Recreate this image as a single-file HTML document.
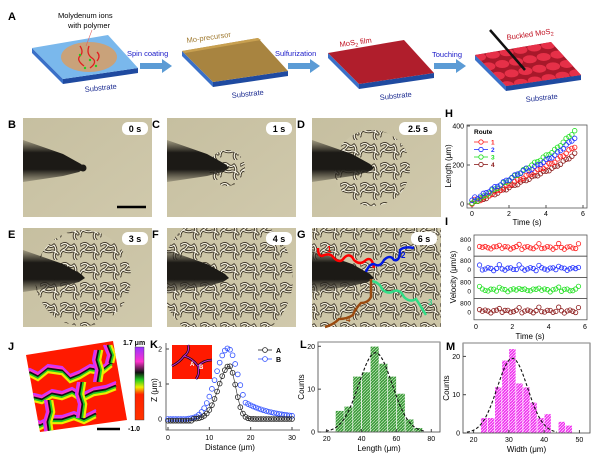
<!DOCTYPE html>
<html><head><meta charset="utf-8"><style>
html,body{margin:0;padding:0;background:#fff;}
svg{display:block;font-family:"Liberation Sans",Arial,sans-serif;}
</style></head><body>
<svg id="s" width="600" height="457" viewBox="0 0 600 457" xmlns="http://www.w3.org/2000/svg">
<defs>
<pattern id="buck" width="20" height="20" patternUnits="userSpaceOnUse">
 <rect width="20" height="20" fill="#cdc6a8"/>
 <g fill="none" stroke-linecap="round">
 <path d="M1,5 q4,-3 7,0 q3,3 6,0 M14,5 q3,4 1,8 q-2,4 1,7 M8,5 q-2,4 -5,5 q-3,2 -3,6 M3,10 q5,3 9,1 M12,11 q4,0 6,3" stroke="#3a3224" stroke-width="3"/>
 <path d="M1,5 q4,-3 7,0 q3,3 6,0 M14,5 q3,4 1,8 q-2,4 1,7 M8,5 q-2,4 -5,5 q-3,2 -3,6 M3,10 q5,3 9,1 M12,11 q4,0 6,3" stroke="#f6f2e2" stroke-width="1.2"/>
 </g>
</pattern>
<linearGradient id="bg" x1="0" y1="0" x2="1" y2="1"><stop offset="0" stop-color="#c6bfa0"/><stop offset="1" stop-color="#d0c9ac"/></linearGradient>
<linearGradient id="ndl" x1="0" y1="0" x2="0" y2="1"><stop offset="0" stop-color="#3a362c" stop-opacity="0.3"/><stop offset="0.3" stop-color="#1c1a16"/><stop offset="0.7" stop-color="#1c1a16"/><stop offset="1" stop-color="#3a362c" stop-opacity="0.3"/></linearGradient>
<linearGradient id="cb" x1="0" y1="0" x2="0" y2="1">
 <stop offset="0" stop-color="#9933ff"/><stop offset="0.2" stop-color="#ff33cc"/><stop offset="0.35" stop-color="#111"/><stop offset="0.45" stop-color="#22cc22"/><stop offset="0.55" stop-color="#eeee00"/><stop offset="0.65" stop-color="#ff2200"/><stop offset="1" stop-color="#ff3300"/></linearGradient>
<pattern id="hg" width="3" height="3" patternUnits="userSpaceOnUse"><rect width="3" height="3" fill="#3a9a3a"/><path d="M0,3 L3,0" stroke="#b8e0b0" stroke-width="0.8"/></pattern>
<pattern id="hm" width="3" height="3" patternUnits="userSpaceOnUse"><rect width="3" height="3" fill="#ee33ee"/><path d="M0,3 L3,0" stroke="#ffd0ff" stroke-width="0.8"/></pattern>
</defs>
<g id="root"></g>
</svg>
<script>
const NS="http://www.w3.org/2000/svg";const root=document.getElementById('root');
function el(t,a,txt,p){const e=document.createElementNS(NS,t);for(const k in a)e.setAttribute(k,a[k]);if(txt!=null)e.textContent=txt;(p||root).appendChild(e);return e;}
function T(x,y,s,sz,o){o=o||{};return el('text',Object.assign({x:x,y:y,'font-size':sz||8,fill:'#000'},o),s);}
[['A',8,20],['B',8,128],['C',152,128],['D',297,128],['E',8,238],['F',152,238],['G',297,238],['H',445,117],['I',445,225],['J',8,350],['K',150,348],['L',300,348],['M',446,350]].forEach(a=>T(a[1],a[2],a[0],11,{'font-weight':'bold'}));
// Schematic slabs
function slab(x,y,top,id,extra){
 const L=[x,y+13],B=[x+76,y],R=[x+106,y+33],F=[x+31,y+44];
 el('polygon',{points:`${L} ${F} ${F[0]},${F[1]+5} ${L[0]},${L[1]+5}`,fill:'#3a70c8'});
 el('polygon',{points:`${F} ${R} ${R[0]},${R[1]+5} ${F[0]},${F[1]+5}`,fill:'#1f4aa0'});
 el('polygon',{points:`${L} ${B} ${R} ${F}`,fill:top});
 if(extra){const cp=el('clipPath',{id:id});el('polygon',{points:`${L} ${B} ${R} ${F}`},null,cp);extra(el('g',{'clip-path':`url(#${id})`}),L,B,R,F);}
}
slab(32,35,'#7ab8ec','s1',g=>{el('ellipse',{cx:89,cy:57,rx:28,ry:15,fill:'#c9a27a'},null,g);
 el('path',{d:'M80,46 q4,6 0,10 t4,10 M89,46 q-3,8 3,12 t-2,10 M97,52 q4,4 0,9',stroke:'#e02020','stroke-width':1.3,fill:'none'},null,g);
 [[80,55],[90,60],[96,66],[85,68]].forEach(p=>el('circle',{cx:p[0],cy:p[1],r:1.2,fill:'#22cc22'},null,g));});
el('line',{x1:92,y1:30,x2:86,y2:46,stroke:'#e06060','stroke-width':0.6});
slab(182,38,'#a88440');
el('polygon',{points:'182,51 258,38 261,40 185,53',fill:'#c8a050'});
slab(328,40,'#b01e2c');
slab(475,42,'#a8182a','s4',(g,L,B,R,F)=>{
 for(let i=0;i<24;i++){const u=(i%6)/5.5,v=Math.floor(i/6)/3.3;
  const px=L[0]+u*(B[0]-L[0])+v*(F[0]-L[0]),py=L[1]+u*(B[1]-L[1])+v*(F[1]-L[1]);
  el('ellipse',{cx:px+4,cy:py+2,rx:7,ry:4,fill:'#e63048'},null,g);}});
el('line',{x1:490,y1:30,x2:525,y2:70,stroke:'#111','stroke-width':2.5});
[[140,66],[288,66],[434,66]].forEach(a=>{el('polygon',{points:`${a[0]},${a[1]-3} ${a[0]+22},${a[1]-3} ${a[0]+22},${a[1]-7} ${a[0]+32},${a[1]} ${a[0]+22},${a[1]+7} ${a[0]+22},${a[1]+3} ${a[0]},${a[1]+3}`,fill:'#5b9bd5'});});
T(127,56,'Spin coating',7.5,{fill:'#1a1ac8'});T(275,56,'Sulfurization',7.5,{fill:'#1a1ac8'});T(432,57,'Touching',7.5,{fill:'#1a1ac8'});
T(58,18,'Molydenum ions',7.5);T(68,28,'with polymer',7.5);
T(187,43,'Mo-precursor',7.5,{fill:'#a07a30',transform:'rotate(-8 187 43)'});
el('text',{x:340,y:47,'font-size':7.5,fill:'#c01020',transform:'rotate(-8 340 47)'}).innerHTML='MoS<tspan font-size="5.5" dy="2">2</tspan><tspan dy="-2"> film</tspan>';
el('text',{x:507,y:40,'font-size':7.5,fill:'#c01020',transform:'rotate(-8 507 40)'}).innerHTML='Buckled MoS<tspan font-size="5.5" dy="2">2</tspan>';
T(85,92,'Substrate',7.5,{fill:'#1a2a90',transform:'rotate(-6 85 92)'});T(232,98,'Substrate',7.5,{fill:'#1a2a90',transform:'rotate(-6 232 98)'});
T(380,100,'Substrate',7.5,{fill:'#1a2a90',transform:'rotate(-6 380 100)'});T(526,102,'Substrate',7.5,{fill:'#1a2a90',transform:'rotate(-6 526 102)'});
// micrographs
const imgs=[[23,118,0,'0 s'],[167,118,18,'1 s'],[312,118,38,'2.5 s'],[23,228,48,'3 s'],[167,228,66,'4 s'],[312,228,160,'6 s']];
imgs.forEach((m,i)=>{const [x,y,r,l]=m,w=129,h=99;
 const cid='c'+i;const cp=el('clipPath',{id:cid});el('rect',{x:x,y:y,width:w,height:h},null,cp);
 el('rect',{x:x,y:y,width:w,height:h,fill:'url(#bg)'});
 const g=el('g',{'clip-path':`url(#${cid})`});
 if(r>0){const c2='cc'+i;const cc=el('clipPath',{id:c2});el('circle',{cx:x+60,cy:y+50,r:r},null,cc);
  el('rect',{x:x,y:y,width:w,height:h,fill:'url(#buck)','clip-path':`url(#${c2})`},null,g);}
 el('polygon',{points:`${x},${y+22} ${x+40},${y+36} ${x+58},${y+46} ${x+62},${y+50} ${x+56},${y+54} ${x+40},${y+58} ${x},${y+64}`,fill:'url(#ndl)'},null,g);
 if(r==0)el('circle',{cx:x+60,cy:y+50,r:3.5,fill:'#1c1a16'},null,g);
 const tw=l.length*6+8;el('rect',{x:x+w-tw-4,y:y+4,width:tw,height:13,rx:6,fill:'#fff'});
 T(x+w-4-tw/2,y+14,l,9,{'font-weight':'bold','text-anchor':'middle'});
});
el('line',{x1:117,y1:207,x2:146,y2:207,stroke:'#000','stroke-width':2.5});
const rt=[['#ff0000','M318,248 q0,8 4,8 q8,-4 12,2 q6,6 10,0 q6,-6 10,2 q6,6 12,0 q6,-4 8,8'],['#0018e0','M366,272 q3,-8 8,-8 q6,4 10,-4 q6,-6 10,0 q6,2 6,-10 q4,-4 14,-2'],['#33dd88','M372,281 q8,2 10,8 q6,6 12,2 q6,-2 10,6 q6,6 12,2 q4,6 10,16'],['#9a4a10','M371,279 l0,18 q-3,6 -10,6 q-6,6 -8,12 q-6,4 -14,4 q-6,6 -14,8']];
rt.forEach(r=>el('path',{d:r[1],stroke:r[0],'stroke-width':2.5,fill:'none'}));
T(327,252,'1',8,{fill:'#ff0000','font-weight':'bold'});T(401,258,'2',8,{fill:'#0018e0','font-weight':'bold'});
T(428,305,'3',8,{fill:'#33cc88','font-weight':'bold'});T(346,322,'4',8,{fill:'#9a4a10','font-weight':'bold'});
// H
const cols=['#ff2020','#2030ff','#20e020','#8b1a1a'];
el('rect',{x:467,y:125,width:120,height:83,fill:'none',stroke:'#555','stroke-width':0.8});
const hx=t=>472+t*111/6,hy=v=>204-v*78/400;
[0,2,4,6].forEach(t=>{el('line',{x1:hx(t),y1:208,x2:hx(t),y2:205,stroke:'#555'});T(hx(t),216,t,7,{'text-anchor':'middle'});});
[0,200,400].forEach(v=>{el('line',{x1:467,y1:hy(v),x2:470,y2:hy(v),stroke:'#555'});T(464,hy(v)+2.5,v,7,{'text-anchor':'end'});});
T(527,225,'Time (s)',8,{'text-anchor':'middle'});T(451,166,'Length (μm)',8,{'text-anchor':'middle',transform:'rotate(-90 451 166)'});
const ends=[300,345,380,260];
[3,0,2,1].forEach(k=>{for(let i=0;i<=36;i++){const t=i*5.55/36;let v=(t<0.3?t*120:ends[k]*(t/5.55)*0.9+(t>4.5?(t-4.5)*ends[k]*0.08:0))+Math.sin(i*1.7+k)*5;if(k==1)v+=t<3?15:0;
 el('circle',{cx:hx(t),cy:hy(v),r:2.3,fill:'none',stroke:cols[k],'stroke-width':0.8});}});
T(474,134,'Route',6.5,{'font-weight':'bold'});
cols.forEach((c,k)=>{const y=142+k*7.5;el('line',{x1:474,y1:y,x2:488,y2:y,stroke:c,'stroke-width':0.8});el('circle',{cx:481,cy:y,r:2.2,fill:'#fff',stroke:c,'stroke-width':0.8});T(491,y+2.5,k+1,6.5,{fill:c,'font-weight':'bold'});});
// I
const iy0=235,sh=21.2;
for(let k=0;k<4;k++){const y=iy0+k*sh;el('rect',{x:474,y:y,width:113,height:sh,fill:'none',stroke:'#555','stroke-width':0.8});
 T(471,y+7,'800',6.5,{'text-anchor':'end'});T(471,y+16,'0',6.5,{'text-anchor':'end'});
 for(let i=0;i<36;i++){const t=0.3+i*5.5/36;const v=Math.abs(Math.sin(i*2.3+k*1.1))*3+(i%7==0?3:0);
  el('circle',{cx:474+t*111/6,cy:y+14.5-v,r:2.2,fill:'none',stroke:cols[k],'stroke-width':0.8});}}
[0,2,4,6].forEach(t=>T(476+t*109/6,329,t,7,{'text-anchor':'middle'}));
T(530,339,'Time (s)',8,{'text-anchor':'middle'});T(456,277,'Velocity (μm/s)',8,{'text-anchor':'middle',transform:'rotate(-90 456 277)'});
// J
const jpts='26,355 113,341 127,420 40,432';
el('polygon',{points:jpts,fill:'#ff1a00'});
const jc=el('clipPath',{id:'jc'});el('polygon',{points:jpts},null,jc);
const jg=el('g',{'clip-path':'url(#jc)'});
const bcols=['#cc33ff','#ff33cc','#111','#22cc22','#eeee00'];
function band(d,dx,dy){bcols.forEach((c,i)=>el('path',{d:d,fill:'none',stroke:c,'stroke-width':2.2,transform:`translate(${dx*i},${dy*i})`},null,jg));}
band('M20,372 l10,-3 l8,4 l10,-8 l14,2 l8,8 l10,-4 l10,-6 l12,2 l10,-8',0,1.8);
band('M20,398 l14,-4 l8,2 l10,-6 l10,2 l10,-4 l10,6 l12,-6 l12,-2 l10,-4',0,1.8);
band('M20,420 l12,-2 l8,4 l12,-6 l10,0 l12,-4 l10,4 l12,-6',0,1.8);
band('M45,400 l2,12 l-3,10 l2,14',1.8,0);band('M78,382 l-2,12 l3,10 l-2,14',1.8,0);
band('M95,350 l-2,10 l3,10 l-2,12',1.8,0);band('M104,345 l4,10 l-2,8',1.8,0);
el('rect',{x:135,y:347,width:9,height:73,fill:'url(#cb)',stroke:'#333','stroke-width':0.4});
T(123,345,'1.7 μm',7,{'font-weight':'bold'});T(128,431,'-1.0',7,{'font-weight':'bold'});
el('line',{x1:97,y1:429,x2:120,y2:429,stroke:'#000','stroke-width':2.5});
// K
const kx=d=>168+d*124/30,ky=z=>419-z*35;
el('path',{d:'M166,343 V430 H300',fill:'none',stroke:'#444','stroke-width':0.8});
[0,10,20,30].forEach(d=>{el('line',{x1:kx(d),y1:430,x2:kx(d),y2:427,stroke:'#444'});T(kx(d),440,d,7,{'text-anchor':'middle'});});
[0,1,2].forEach(z=>{el('line',{x1:166,y1:ky(z),x2:169,y2:ky(z),stroke:'#444'});T(162,ky(z)+2.5,z,7,{'text-anchor':'end'});});
T(230,450,'Distance (μm)',8,{'text-anchor':'middle'});T(157,390,'Z (μm)',8,{'text-anchor':'middle',transform:'rotate(-90 157 390)'});
const pa=[],pb=[];
for(let i=0;i<=48;i++){const d=i*30/48;
 pb.push([d,d<5?0:(d<14.5?2.02*Math.exp(-Math.pow((d-14.5)/4.2,2)):Math.max(0.05,2.02*Math.exp(-Math.pow((d-14.5)/3.5,2)),0.6*Math.exp(-(d-17)/7)))]);
 pa.push([d,d<6?-0.05:(d<15?1.52*Math.exp(-Math.pow((d-14.8)/3.6,2)):Math.max(-0.05,1.52*Math.exp(-Math.pow((d-14.8)/2.2,2))))]);}
el('polyline',{points:pa.map(p=>kx(p[0])+','+ky(p[1])).join(' '),fill:'none',stroke:'#222','stroke-width':0.6});
pb.forEach(p=>el('circle',{cx:kx(p[0]),cy:ky(p[1]),r:2.4,fill:'none',stroke:'#3050ff','stroke-width':0.8}));
pa.forEach(p=>el('circle',{cx:kx(p[0]),cy:ky(p[1]),r:2.4,fill:'none',stroke:'#222','stroke-width':0.8}));
el('rect',{x:172,y:345,width:40,height:34,fill:'#ff1a00'});
el('path',{d:'M172,366 q8,-4 12,-10 q6,-4 4,-11 M184,356 q8,2 14,10 q2,8 -2,13 M198,366 q6,-6 14,-6',stroke:'#111','stroke-width':2.5,fill:'none'});
el('path',{d:'M172,366 q8,-4 12,-10 q6,-4 4,-11 M184,356 q8,2 14,10 q2,8 -2,13 M198,366 q6,-6 14,-6',stroke:'#d020d0','stroke-width':1,fill:'none'});
T(190,366,'A',6,{fill:'#fff','font-weight':'bold'});T(199,369,'B',6,{fill:'#fff','font-weight':'bold'});
el('line',{x1:258,y1:350,x2:272,y2:350,stroke:'#222','stroke-width':0.8});el('circle',{cx:265,cy:350,r:2.4,fill:'#fff',stroke:'#222','stroke-width':0.8});T(276,353,'A',7,{'font-weight':'bold'});
el('line',{x1:258,y1:359,x2:272,y2:359,stroke:'#3050ff','stroke-width':0.8});el('circle',{cx:265,cy:359,r:2.4,fill:'#fff',stroke:'#3050ff','stroke-width':0.8});T(276,362,'B',7,{'font-weight':'bold'});
// histograms
function hist(x0,x1,y0,y1,xmin,xmax,ymax,bw,start,counts,fill,ticks,yt,lbl,mu,sd,amp){
 const X=v=>x0+(v-xmin)/(xmax-xmin)*(x1-x0),Y=c=>y1-c/ymax*(y1-y0);
 counts.forEach((c,i)=>{if(c>0)el('rect',{x:X(start+i*bw),y:Y(c),width:X(bw)-X(0),height:y1-Y(c),fill:fill,stroke:'#fff','stroke-width':0.6});});
 el('rect',{x:x0,y:y0,width:x1-x0,height:y1-y0,fill:'none',stroke:'#444','stroke-width':0.8});
 el('line',{x1:x0,y1:y0,x2:x1,y2:y0,stroke:'#999','stroke-width':1.2});
 ticks.forEach(t=>{el('line',{x1:X(t),y1:y1,x2:X(t),y2:y1-3,stroke:'#444'});T(X(t),y1+9,t,7,{'text-anchor':'middle'});});
 yt.forEach(t=>{el('line',{x1:x0,y1:Y(t),x2:x0+3,y2:Y(t),stroke:'#444'});T(x0-3,Y(t)+2.5,t,7,{'text-anchor':'end'});});
 let d='';for(let v=mu-3*sd;v<=mu+3*sd;v+=0.5){d+=(d?'L':'M')+X(v)+','+Y(amp*Math.exp(-Math.pow((v-mu)/sd,2)/2));}
 el('path',{d:d,fill:'none',stroke:'#111','stroke-width':1.1,'stroke-dasharray':'3,2'});
 T((x0+x1)/2,y1+19,lbl,8,{'text-anchor':'middle'});T(x0-14,(y0+y1)/2,'Counts',8,{'text-anchor':'middle',transform:`rotate(-90 ${x0-14} ${(y0+y1)/2})`});
}
hist(318,440,342,432,15,85,21,5,25,[5,6,13,14,20,16,13,9,3,1],'url(#hg)',[20,40,60,80],[0,10,20],'Length (μm)',48,9.5,18.5);
hist(463,590,343,433,17,53,23.5,2,22,[4,4,12,19,22,13,12,8,4,5,0,3,2],'url(#hm)',[20,30,40,50],[0,10,20],'Width (μm)',31,4.3,19.5);
</script>
</body></html>
